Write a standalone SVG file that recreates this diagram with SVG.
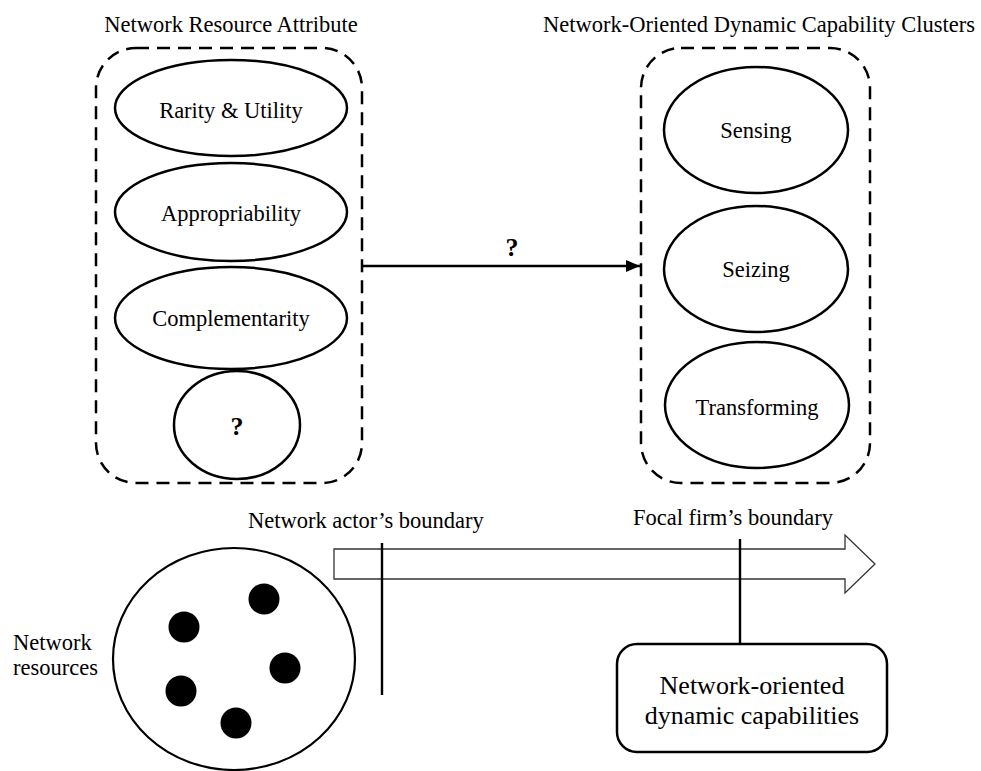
<svg xmlns="http://www.w3.org/2000/svg" width="981" height="771" viewBox="0 0 981 771">
<style>
text{font-family:"Liberation Serif","Times New Roman",serif;fill:#000}
.t{font-size:22.5px}
.c{text-anchor:middle}
.q{font-size:26px;font-weight:bold}
.el{fill:#fff;stroke:#000;stroke-width:2.5}
.dash{fill:none;stroke:#000;stroke-width:2.5;stroke-dasharray:13 8}
.ln{stroke:#000;stroke-width:2.4;fill:none}
</style>
<defs>
<marker id="ah" markerWidth="14" markerHeight="12" refX="14" refY="6" orient="auto" markerUnits="userSpaceOnUse">
<path d="M0,0 L14,6 L0,12 Z" fill="#000"/>
</marker>
</defs>
<rect width="981" height="771" fill="#fff"/>

<g id="left-cluster">
<text class="t c" x="231" y="32">Network Resource Attribute</text>
<rect class="dash" x="96" y="48" width="266" height="435" rx="40"/>
</g>
<g id="rarity"><ellipse class="el" cx="231" cy="108" rx="116" ry="48"/><text class="t c" x="231" y="118">Rarity &amp; Utility</text></g>
<g id="appropriability"><ellipse class="el" cx="231" cy="212" rx="116" ry="49"/><text class="t c" x="231" y="221">Appropriability</text></g>
<g id="complementarity"><ellipse class="el" cx="231" cy="318" rx="116" ry="51"/><text class="t c" x="231" y="326">Complementarity</text></g>
<g id="unknown-attr"><ellipse class="el" cx="237" cy="425" rx="63" ry="54"/><text class="q c" x="237" y="435">?</text></g>

<g id="right-cluster">
<text class="t c" x="759" y="32">Network-Oriented Dynamic Capability Clusters</text>
<rect class="dash" x="641" y="48" width="229" height="435" rx="40"/>
</g>
<g id="sensing"><ellipse class="el" cx="756" cy="130" rx="92" ry="63"/><text class="t c" x="756" y="138">Sensing</text></g>
<g id="seizing"><ellipse class="el" cx="756" cy="269" rx="92" ry="63"/><text class="t c" x="756" y="277">Seizing</text></g>
<g id="transforming"><ellipse class="el" cx="757" cy="405" rx="92" ry="63"/><text class="t c" x="757" y="415">Transforming</text></g>

<g id="connectors">
<line class="ln" x1="362" y1="266" x2="640" y2="266" marker-end="url(#ah)"/>
<text class="q c" x="512" y="256">?</text>
<path d="M334,549 H845 V535 L875,564 L845,593 V579 H334 Z" fill="none" stroke="#333" stroke-width="1.3"/>
<line class="ln" x1="382" y1="543" x2="382" y2="695"/>
<line class="ln" x1="740" y1="539" x2="740" y2="644"/>
</g>

<g id="labels">
<text class="t" x="248" y="528">Network actor’s boundary</text>
<text class="t" x="633" y="525">Focal firm’s boundary</text>
<text class="t" x="13" y="650">Network</text>
<text class="t" x="13" y="675">resources</text>
</g>

<g id="network-resources">
<ellipse cx="234" cy="659" rx="121" ry="111" fill="#fff" stroke="#000" stroke-width="2.2"/>
<circle cx="264" cy="599" r="15.5"/>
<circle cx="184" cy="627" r="15.5"/>
<circle cx="285" cy="668" r="15.5"/>
<circle cx="181" cy="691" r="15.5"/>
<circle cx="236" cy="723" r="15.5"/>
</g>

<g id="nodc">
<rect x="617" y="644" width="270" height="108" rx="20" fill="#fff" stroke="#000" stroke-width="2.5"/>
<text class="c" x="752" y="694" font-size="26">Network-oriented</text>
<text class="c" x="752" y="724" font-size="26">dynamic capabilities</text>
</g>
</svg>
